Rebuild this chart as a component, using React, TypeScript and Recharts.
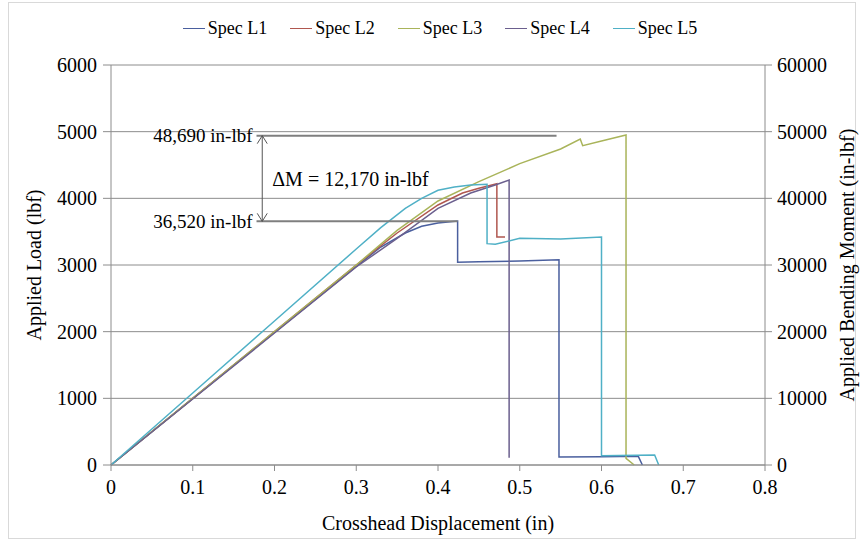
import { LineChart, Line, XAxis, YAxis, CartesianGrid, Legend, ReferenceLine } from 'recharts';

// crosshead displacement (in) / applied load (lbf)
const specL1Disp = [0, 0.1, 0.2, 0.3, 0.33, 0.36, 0.38, 0.4, 0.424, 0.424, 0.45, 0.5, 0.548, 0.548, 0.6, 0.645, 0.65];
const specL1Load = [0, 1000, 1990, 2980, 3270, 3480, 3580, 3630, 3660, 3040, 3050, 3060, 3080, 120, 125, 130, 0];

const specL2Disp = [0, 0.1, 0.2, 0.3, 0.35, 0.4, 0.43, 0.45, 0.472, 0.472, 0.482];
const specL2Load = [0, 1000, 2000, 3000, 3480, 3900, 4080, 4150, 4220, 3420, 3420];

const specL3Disp = [0, 0.1, 0.2, 0.3, 0.35, 0.4, 0.45, 0.5, 0.55, 0.574, 0.577, 0.6, 0.63, 0.63, 0.64];
const specL3Load = [0, 1000, 2000, 3000, 3520, 3960, 4250, 4520, 4740, 4890, 4790, 4860, 4950, 100, 0];

const specL4Disp = [0, 0.1, 0.2, 0.3, 0.35, 0.4, 0.44, 0.47, 0.487, 0.487];
const specL4Load = [0, 990, 1980, 2970, 3400, 3850, 4080, 4200, 4275, 110];

const specL5Disp = [0, 0.1, 0.2, 0.3, 0.33, 0.36, 0.38, 0.4, 0.42, 0.44, 0.46, 0.46, 0.47, 0.5, 0.55, 0.6, 0.6, 0.665, 0.67];
const specL5Load = [0, 1080, 2160, 3240, 3560, 3850, 4000, 4120, 4170, 4200, 4210, 3320, 3310, 3400, 3390, 3420, 140, 150, 0];

const xTicks = [0, 0.1, 0.2, 0.3, 0.4, 0.5, 0.6, 0.7, 0.8];
const loadTicks = [0, 1000, 2000, 3000, 4000, 5000, 6000];
const momentTicks = [0, 10000, 20000, 30000, 40000, 50000, 60000];

// annotated peak moments (in-lbf) on the secondary axis
const peakDisp = [0.424, 0.63];
const peakMoment = [36550, 49400];
const upperMoment = peakMoment[1];
const lowerMoment = peakMoment[0];

const toRows = (xs: number[], ys: number[]) => xs.map((x, i) => ({ x, y: ys[i] }));

const series = [
  { name: 'Spec L1', data: toRows(specL1Disp, specL1Load), color: '#4a5f9e' },
  { name: 'Spec L2', data: toRows(specL2Disp, specL2Load), color: '#b0574f' },
  { name: 'Spec L3', data: toRows(specL3Disp, specL3Load), color: '#a9b45a' },
  { name: 'Spec L4', data: toRows(specL4Disp, specL4Load), color: '#6b5f8e' },
  { name: 'Spec L5', data: toRows(specL5Disp, specL5Load), color: '#4fb0c6' },
];

const font = '"Liberation Serif", "Times New Roman", serif';
const tickStyle = { fill: '#000', fontSize: 20, fontFamily: font };

const DoubleArrow = (props: any) => {
  const { x1, y1, x2, y2 } = props;
  const top = Math.min(y1, y2);
  const bot = Math.max(y1, y2);
  return (
    <g stroke="#555" strokeWidth={1} fill="none">
      <line x1={x1} y1={top} x2={x2} y2={bot} />
      <polyline points={`${x1 - 5},${top + 8} ${x1},${top} ${x1 + 5},${top + 8}`} />
      <polyline points={`${x1 - 5},${bot - 8} ${x1},${bot} ${x1 + 5},${bot - 8}`} />
    </g>
  );
};

const LegendRow = () => (
  <div style={{ display: 'flex', justifyContent: 'center', gap: 23, paddingLeft: 17, fontFamily: font, fontSize: 18, color: '#000' }}>
    {series.map((s) => (
      <div key={s.name} style={{ display: 'flex', alignItems: 'center' }}>
        <span style={{ display: 'inline-block', width: 22, height: 0, borderTop: `1.5px solid ${s.color}`, marginRight: 3 }} />
        <span>{s.name}</span>
      </div>
    ))}
  </div>
);

export default function App() {
  return (
    <div style={{ position: 'absolute', left: 0, top: 0, width: 863, height: 546, background: '#fff', fontFamily: font }}>
      <div style={{ position: 'absolute', left: 8, top: 2, width: 846, height: 535, border: '1px solid #d9d9d9' }} />
      <LineChart width={863} height={546} margin={{ top: 40, right: 0, bottom: 0, left: 0 }}>
        <CartesianGrid yAxisId="load" vertical={false} stroke="#8c8c8c" />
        <XAxis
          type="number"
          dataKey="x"
          domain={[0, 0.8]}
          ticks={xTicks}
          tickFormatter={(v: number) => String(v)}
          stroke="#8c8c8c"
          tick={tickStyle}
          tickSize={6}
          tickMargin={9}
          height={81}
          label={{ value: 'Crosshead Displacement  (in)', position: 'insideBottom', offset: 16, fill: '#000', fontSize: 20, fontFamily: font }}
        />
        <YAxis
          yAxisId="load"
          type="number"
          domain={[0, 6000]}
          ticks={loadTicks}
          stroke="#8c8c8c"
          tick={tickStyle}
          tickSize={8}
          tickMargin={6}
          width={111}
          label={{ value: 'Applied Load (lbf)', angle: -90, position: 'insideLeft', offset: 34, style: { textAnchor: 'middle' }, fill: '#000', fontSize: 20, fontFamily: font }}
        />
        <YAxis
          yAxisId="moment"
          orientation="right"
          type="number"
          domain={[0, 60000]}
          ticks={momentTicks}
          allowDataOverflow
          stroke="#8c8c8c"
          tick={tickStyle}
          tickSize={7}
          tickMargin={5}
          width={98}
          label={{ value: 'Applied Bending Moment (in-lbf)', angle: -90, position: 'insideRight', offset: 16, style: { textAnchor: 'middle' }, fill: '#000', fontSize: 20, fontFamily: font }}
        />
        <Legend verticalAlign="top" height={25} wrapperStyle={{ top: 18 }} content={LegendRow} />
        {series.map((s) => (
          <Line
            key={s.name}
            yAxisId="load"
            data={s.data}
            dataKey="y"
            name={s.name}
            type="linear"
            stroke={s.color}
            strokeWidth={1.5}
            dot={false}
            legendType="plainline"
            isAnimationActive={false}
          />
        ))}
        <Line
          yAxisId="moment"
          data={toRows(peakDisp, peakMoment)}
          dataKey="y"
          name="peak moment"
          stroke="none"
          dot={false}
          legendType="none"
          isAnimationActive={false}
        />
        <ReferenceLine
          yAxisId="moment"
          segment={[{ x: 0.178, y: upperMoment }, { x: 0.545, y: upperMoment }]}
          stroke="#7f7f7f"
          strokeWidth={2}
          ifOverflow="visible"
          label={{ value: '48,690 in-lbf', position: 'left', offset: 4, fill: '#000', fontSize: 19, fontFamily: font }}
        />
        <ReferenceLine
          yAxisId="moment"
          segment={[{ x: 0.178, y: lowerMoment }, { x: 0.424, y: lowerMoment }]}
          stroke="#7f7f7f"
          strokeWidth={2}
          ifOverflow="visible"
          label={{ value: '36,520 in-lbf', position: 'left', offset: 4, fill: '#000', fontSize: 19, fontFamily: font }}
        />
        <ReferenceLine
          yAxisId="moment"
          segment={[{ x: 0.185, y: upperMoment }, { x: 0.185, y: lowerMoment }]}
          shape={DoubleArrow}
          ifOverflow="visible"
          label={{ value: 'ΔM = 12,170 in-lbf', position: 'right', offset: 10, fill: '#000', fontSize: 20, fontFamily: font }}
        />
      </LineChart>
    </div>
  );
}
